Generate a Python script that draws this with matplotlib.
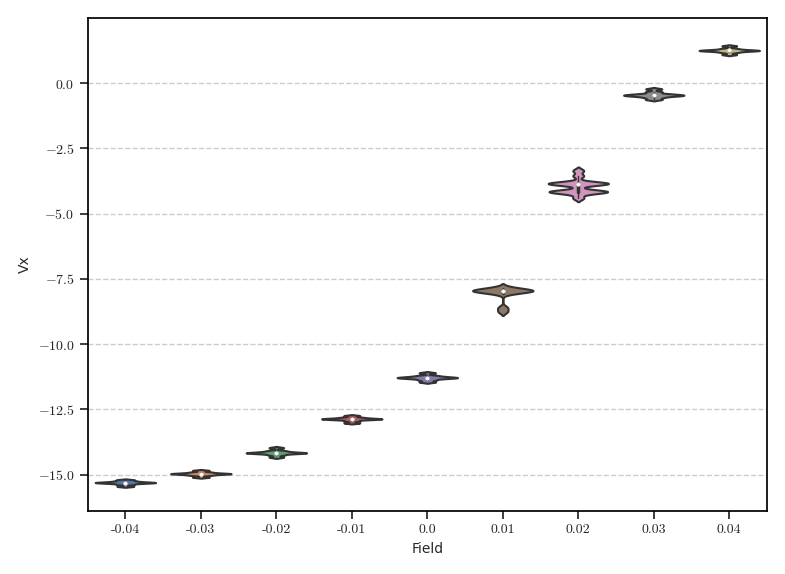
import matplotlib
matplotlib.use("Agg")
import matplotlib.pyplot as plt
import seaborn as sns
import pandas as pd

sns.set_theme(style="ticks")
plt.rcParams["axes.formatter.use_mathtext"] = True
plt.rcParams["mathtext.fontset"] = "cm"

fields = ["-0.04", "-0.03", "-0.02", "-0.01", "0.0", "0.01", "0.02", "0.03", "0.04"]

# sample values
vx_m004 = [-15.45, -15.38, -15.34, -15.32, -15.31, -15.30, -15.29, -15.27, -15.24, -15.20]
vx_m003 = [-15.10, -15.03, -15.00, -14.98, -14.97, -14.96, -14.95, -14.93, -14.90, -14.84]
vx_m002 = [-14.33, -14.25, -14.20, -14.18, -14.17, -14.16, -14.15, -14.12, -14.08, -13.97]
vx_m001 = [-13.02, -12.95, -12.90, -12.88, -12.87, -12.86, -12.85, -12.83, -12.80, -12.74]
vx_000 = [-11.45, -11.38, -11.33, -11.30, -11.29, -11.28, -11.26, -11.24, -11.20, -11.10]
vx_p001 = [-8.75, -8.60, -8.05, -8.00, -7.97, -7.96, -7.95, -7.94, -7.92, -7.88, -7.83]
vx_p002 = [-4.40, -4.22, -4.17, -4.16, -4.15, -4.14, -4.12, -3.88, -3.86, -3.85, -3.84, -3.83, -3.80, -3.55, -3.35]
vx_p003 = [-0.62, -0.55, -0.50, -0.48, -0.46, -0.45, -0.43, -0.40, -0.33, -0.22]
vx_p004 = [1.10, 1.18, 1.22, 1.24, 1.25, 1.26, 1.27, 1.29, 1.33, 1.43]

groups = [vx_m004, vx_m003, vx_m002, vx_m001, vx_000, vx_p001, vx_p002, vx_p003, vx_p004]
rows = [(f, v) for f, vals in zip(fields, groups) for v in vals]
df = pd.DataFrame(rows, columns=["Field", "Vx"])

fig, ax = plt.subplots(figsize=(7.85, 5.74), dpi=100)
sns.violinplot(data=df, x="Field", y="Vx", hue="Field", palette="deep", legend=False,
               order=fields, bw_method=0.25, density_norm="area", width=0.8,
               saturation=0.75, linewidth=1.5, linecolor="#333333",
               inner_kws=dict(box_width=2.5, whis_width=1, marker="o", markersize=2.5),
               ax=ax)
ax.yaxis.grid(True, linestyle="--", color="#cccccc")
ax.set_axisbelow(True)
ax.set_ylim(-16.4, 2.5)
ax.set_yticks([-15, -12.5, -10, -7.5, -5, -2.5, 0])
ax.set_yticklabels([r"$-15.0$", r"$-12.5$", r"$-10.0$", r"$-7.5$", r"$-5.0$", r"$-2.5$", r"$0.0$"])
ax.set_xticks(range(len(fields)))
ax.set_xticklabels(fields, fontfamily="cmr10")
ax.tick_params(labelsize=10)
ax.set_xlabel("Field", fontsize=10)
ax.set_ylabel("Vx", fontsize=10)
for s in ax.spines.values():
    s.set_color("black")
plt.tight_layout()
fig.savefig("out.png", dpi=100)
